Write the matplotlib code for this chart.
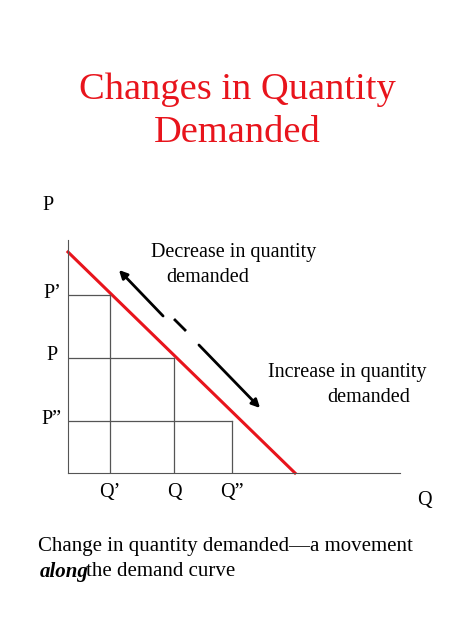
import matplotlib.pyplot as plt

plt.rcParams['font.family'] = ['Liberation Serif', 'DejaVu Serif']

# demand curve endpoints (Q, P) in chart units
demand_q = [0, 227]
demand_p = [221, 0]
# marked points on the curve
point_q = [42, 106, 164]
point_p = [178, 115, 52]
q_labels = ["Q\u2019", "Q", "Q\u201d"]
p_labels = ["P\u2019", "P", "P\u201d"]

W, H = 474, 631
fig = plt.figure(figsize=(W / 100, H / 100), dpi=100)

fig.text(0.5, 1 - 90 / H, "Changes in Quantity", color="#e8141c", fontsize=27.7,
         ha="center", va="center")
fig.text(0.5, 1 - 133 / H, "Demanded", color="#e8141c", fontsize=27.7,
         ha="center", va="center")

ax = fig.add_axes([68 / W, (H - 473) / H, 332 / W, 233 / H])
ax.set_xlim(0, 332)
ax.set_ylim(0, 233)
for s in ["top", "right"]:
    ax.spines[s].set_visible(False)
ax.spines["left"].set_color("#555555")
ax.spines["bottom"].set_color("#555555")
ax.set_xticks([])
ax.set_yticks([])

ax.plot(demand_q, demand_p, color="#e8141c", lw=2.2, clip_on=False)
for q, p in zip(point_q, point_p):
    ax.plot([0, q], [p, p], color="#555555", lw=0.9)
    ax.plot([q, q], [0, p], color="#555555", lw=0.9)

fs = 14.5
for q, lab in zip(point_q, q_labels):
    ax.text(q, -20, lab, ha="center", va="center", fontsize=fs)
for p, lab in zip(point_p, p_labels):
    ax.text(-16, p + 2, lab, ha="center", va="center", fontsize=fs)
ax.text(-20, 268, "P", ha="center", va="center", fontsize=fs)
ax.text(356, -27, "Q", ha="center", va="center", fontsize=fs)

# movement arrows
ax.annotate("", xy=(49, 205), xytext=(97, 155),
            arrowprops=dict(arrowstyle="-|>", color="black", lw=2, mutation_scale=12))
ax.plot([107, 117], [153, 143], color="black", lw=2)
ax.annotate("", xy=(194, 63), xytext=(129, 130),
            arrowprops=dict(arrowstyle="-|>", color="black", lw=2, mutation_scale=12))

ax.text(166, 221, "Decrease in quantity", ha="center", va="center", fontsize=fs)
ax.text(140, 196, "demanded", ha="center", va="center", fontsize=fs)
ax.text(279, 100, "Increase in quantity", ha="center", va="center", fontsize=fs)
ax.text(301, 75, "demanded", ha="center", va="center", fontsize=fs)

fig.text(38 / W, 1 - 547 / H, "Change in quantity demanded\u2014a movement",
         fontsize=15, va="center")
fig.text(40 / W, 1 - 572 / H, "along", fontsize=15, va="center",
         fontstyle="italic", fontweight="bold")
fig.text(86 / W, 1 - 572 / H, "the demand curve", fontsize=15, va="center")

fig.savefig("out.png", dpi=100)
